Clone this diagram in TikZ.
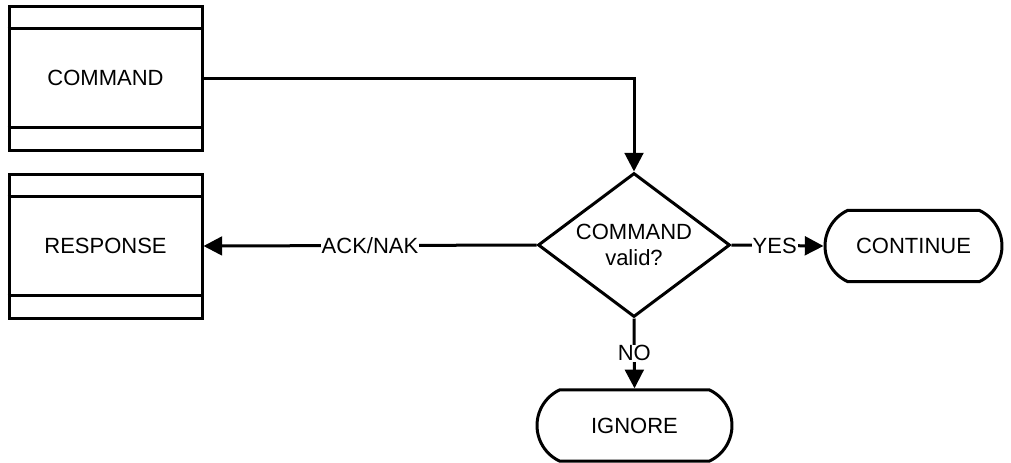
\documentclass[tikz,border=0pt]{standalone}
\usepackage{fontspec}
\setmainfont{Liberation Sans}
\usetikzlibrary{arrows.meta,shapes.geometric,shapes.misc}
\begin{document}
\begin{tikzpicture}[x=0.75pt,y=-0.75pt,
  every node/.style={font=\fontsize{16.5}{19.5}\selectfont},
  base/.style={draw=black,line width=2.25pt,fill=white,inner sep=0pt},
  storebox/.style={base,rectangle,minimum width=144.75pt,minimum height=108pt},
  decision/.style={base,diamond,aspect=1.5,minimum width=144pt,minimum height=108pt,align=center},
  terminal/.style={base,rounded rectangle,rounded rectangle arc length=130,minimum height=53.5pt},
  arr/.style={line width=2.25pt,-{Triangle[length=14pt,width=14pt]}},
  lbl/.style={fill=white,inner sep=0.75pt}]
\useasboundingbox (0,0) rectangle (1011,462);
\node[storebox] (cmd) at (105.5,78) {COMMAND};
\node[storebox] (resp) at (105.5,246) {RESPONSE};
\draw[line width=2.25pt] ([yshift=-18pt]cmd.north west) -- ([yshift=-18pt]cmd.north east);
\draw[line width=2.25pt] ([yshift=18pt]cmd.south west) -- ([yshift=18pt]cmd.south east);
\draw[line width=2.25pt] ([yshift=-18pt]resp.north west) -- ([yshift=-18pt]resp.north east);
\draw[line width=2.25pt] ([yshift=18pt]resp.south west) -- ([yshift=18pt]resp.south east);
\node[decision] (dia) at (634,245) {COMMAND\\valid?};
\node[terminal,minimum width=132.75pt] (cont) at (913.5,246) {CONTINUE};
\node[terminal,minimum width=146.25pt] (ign) at (634.5,425.5) {IGNORE};
\draw[arr] (cmd.east) -| (dia.north);
\draw[arr] (dia.west) -- node[lbl]{ACK/NAK} (resp.east);
\draw[arr] (dia.east) -- node[lbl,pos=0.47]{YES} (cont.west);
\draw[arr] (dia.south) -- node[lbl]{NO} (ign.north);
\end{tikzpicture}
\end{document}
